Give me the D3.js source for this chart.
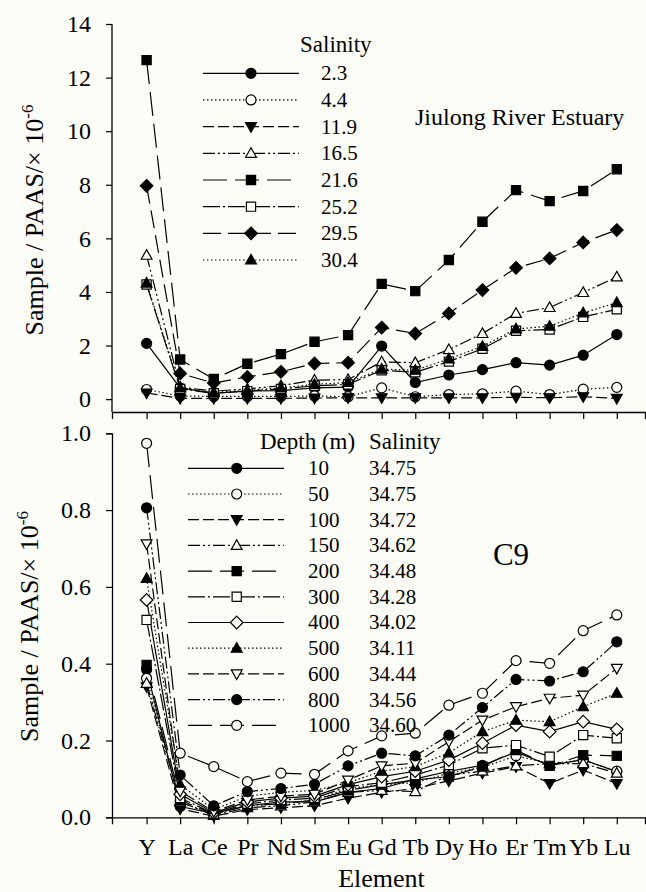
<!DOCTYPE html>
<html>
<head>
<meta charset="utf-8">
<script src="https://cdn.jsdelivr.net/npm/d3@7"></script>
<style>
  html, body { margin: 0; padding: 0; background: #fdfdf8; }
  svg { display: block; }
</style>
</head>
<body>
<svg id="chart" width="646" height="892"></svg>
<script>
// ---------------- DATA ----------------
const elements = ["Y","La","Ce","Pr","Nd","Sm","Eu","Gd","Tb","Dy","Ho","Er","Tm","Yb","Lu"];

// Top panel: Jiulong River Estuary (salinity series)
const topSalinity = ["2.3","4.4","11.9","16.5","21.6","25.2","29.5","30.4"];
const sal2_3  = [2.08, 0.42, 0.22, 0.30, 0.32, 0.42, 0.45, 1.98, 0.62, 0.90, 1.10, 1.36, 1.27, 1.64, 2.41];
const sal4_4  = [0.36, 0.12, 0.10, 0.10, 0.10, 0.12, 0.09, 0.42, 0.09, 0.17, 0.20, 0.30, 0.17, 0.37, 0.44];
const sal11_9 = [0.23, 0.03, 0.03, 0.03, 0.03, 0.04, 0.05, 0.05, 0.05, 0.05, 0.05, 0.07, 0.05, 0.09, 0.03];
const sal16_5 = [5.37, 0.45, 0.30, 0.38, 0.50, 0.71, 0.73, 1.39, 1.36, 1.85, 2.45, 3.20, 3.42, 3.98, 4.56];
const sal21_6 = [12.65, 1.48, 0.75, 1.32, 1.68, 2.14, 2.39, 4.30, 4.03, 5.19, 6.62, 7.80, 7.39, 7.77, 8.58];
const sal25_2 = [4.28, 0.38, 0.22, 0.30, 0.38, 0.50, 0.55, 1.08, 1.00, 1.40, 1.88, 2.55, 2.60, 3.07, 3.35];
const sal29_5 = [7.96, 0.96, 0.60, 0.83, 1.02, 1.33, 1.36, 2.67, 2.45, 3.20, 4.07, 4.90, 5.25, 5.85, 6.31];
const sal30_4 = [4.33, 0.42, 0.25, 0.33, 0.42, 0.55, 0.62, 1.12, 1.08, 1.50, 1.97, 2.62, 2.72, 3.22, 3.60];
const topSeries = [sal2_3, sal4_4, sal11_9, sal16_5, sal21_6, sal25_2, sal29_5, sal30_4];
const topTicks = [0, 2, 4, 6, 8, 10, 12, 14];

// Bottom panel: station C9 (depth series)
const depthLabels = ["10","50","100","150","200","300","400","500","600","800","1000"];
const depthSalinity = ["34.75","34.75","34.72","34.62","34.48","34.28","34.02","34.11","34.44","34.56","34.60"];
const d10   = [0.385, 0.028, 0.010, 0.030, 0.040, 0.040, 0.065, 0.075, 0.100, 0.120, 0.135, 0.170, 0.135, 0.150, 0.119];
const d50   = [0.362, 0.040, 0.008, 0.030, 0.035, 0.045, 0.075, 0.085, 0.090, 0.115, 0.130, 0.160, 0.140, 0.149, 0.120];
const d100  = [0.340, 0.022, 0.003, 0.020, 0.025, 0.030, 0.050, 0.065, 0.075, 0.095, 0.115, 0.132, 0.088, 0.123, 0.088];
const d150  = [0.349, 0.040, 0.005, 0.025, 0.030, 0.040, 0.065, 0.070, 0.067, 0.110, 0.120, 0.134, 0.140, 0.140, 0.115];
const d200  = [0.397, 0.045, 0.008, 0.030, 0.035, 0.045, 0.070, 0.085, 0.097, 0.106, 0.132, 0.175, 0.134, 0.162, 0.160];
const d300  = [0.514, 0.050, 0.010, 0.035, 0.045, 0.050, 0.080, 0.090, 0.110, 0.136, 0.180, 0.188, 0.158, 0.214, 0.206];
const d400  = [0.566, 0.060, 0.012, 0.040, 0.050, 0.055, 0.085, 0.106, 0.120, 0.149, 0.193, 0.240, 0.223, 0.249, 0.229];
const d500  = [0.622, 0.085, 0.020, 0.055, 0.065, 0.070, 0.090, 0.120, 0.132, 0.168, 0.223, 0.253, 0.249, 0.288, 0.323];
const d600  = [0.712, 0.068, 0.015, 0.045, 0.055, 0.060, 0.097, 0.134, 0.141, 0.197, 0.253, 0.288, 0.310, 0.318, 0.388];
const d800  = [0.806, 0.110, 0.030, 0.067, 0.075, 0.086, 0.134, 0.167, 0.160, 0.214, 0.286, 0.359, 0.355, 0.379, 0.457];
const d1000 = [0.974, 0.167, 0.132, 0.093, 0.115, 0.112, 0.173, 0.212, 0.219, 0.292, 0.323, 0.408, 0.401, 0.486, 0.527];
const bottomSeries = [d10, d50, d100, d150, d200, d300, d400, d500, d600, d800, d1000];
const bottomTicks = [0, 0.2, 0.4, 0.6, 0.8, 1.0];

// ---------------- STYLES ----------------
const FONT = "'Liberation Serif', 'Times New Roman', serif";
const DASH = {
  solid: null,
  dot: "1.5,2.5",
  dash: "11,4",
  dashDotDot: "12,3,2,3,2,3",
  longDash: "24,8",
  dashDot: "17,3,2,3",
  longDash2: "18,7"
};
const topStyle = [
  {shape:"circle",  fill:true,  dash:DASH.solid},
  {shape:"circle",  fill:false, dash:DASH.dot},
  {shape:"triDown", fill:true,  dash:DASH.dash},
  {shape:"triUp",   fill:false, dash:DASH.dashDotDot},
  {shape:"square",  fill:true,  dash:DASH.longDash},
  {shape:"square",  fill:false, dash:DASH.dashDot},
  {shape:"diamond", fill:true,  dash:DASH.longDash2},
  {shape:"triUp",   fill:true,  dash:DASH.dot}
];
const bottomStyle = [
  {shape:"circle",  fill:true,  dash:DASH.solid},
  {shape:"circle",  fill:false, dash:DASH.dot},
  {shape:"triDown", fill:true,  dash:DASH.dash},
  {shape:"triUp",   fill:false, dash:DASH.dashDotDot},
  {shape:"square",  fill:true,  dash:DASH.longDash},
  {shape:"square",  fill:false, dash:DASH.dashDot},
  {shape:"diamond", fill:false, dash:DASH.solid},
  {shape:"triUp",   fill:true,  dash:DASH.dot},
  {shape:"triDown", fill:false, dash:DASH.dash},
  {shape:"circle",  fill:true,  dash:DASH.dashDotDot},
  {shape:"circle",  fill:false, dash:DASH.longDash}
];
const BG = "#fdfdf8";

function shapePath(shape) {
  switch (shape) {
    case "circle": return "M5,0A5,5 0 1,1 -5,0A5,5 0 1,1 5,0Z";
    case "square": return "M-4.6,-4.6H4.6V4.6H-4.6Z";
    case "triUp": return "M0,-5.6L5.4,4L-5.4,4Z";
    case "triDown": return "M0,5.6L5.4,-4L-5.4,-4Z";
    case "diamond": return "M0,-6.3L6.3,0L0,6.3L-6.3,0Z";
  }
}

const svg = d3.select("#chart").attr("font-family", FONT);
svg.append("rect").attr("width", 646).attr("height", 892).attr("fill", BG);

const x = d3.scaleLinear().domain([-1.03, 14.84]).range([112, 645]);
const yTop = d3.scaleLinear().domain([-0.48, 14]).range([412, 24]);
const yBot = d3.scaleLinear().domain([0, 1]).range([817.3, 433.3]);

function addText(xx, yy, str, size, anchor) {
  return svg.append("text").attr("x", xx).attr("y", yy)
    .attr("font-family", FONT).attr("font-size", size)
    .attr("text-anchor", anchor || "start").attr("fill", "#000").text(str);
}

function styleAxis(g, fontSize) {
  g.attr("font-family", FONT).attr("font-size", fontSize);
  g.select(".domain").attr("stroke", "#000").attr("stroke-width", 1.3);
  g.selectAll(".tick line").attr("stroke", "#000").attr("stroke-width", 1.2);
  g.selectAll(".tick text").attr("font-size", fontSize).attr("font-family", FONT).attr("fill", "#000");
}

function drawPanel(yScale, ticks, tickFmt, xAxisY, showXLabels, series, styles) {
  const ga = svg.append("g").attr("transform", `translate(112,0)`)
    .call(d3.axisLeft(yScale).tickValues(ticks).tickFormat(tickFmt).tickSizeOuter(0).tickSize(6).tickPadding(15));
  if (yScale === yTop) ga.select(".domain").attr("d", `M0,${xAxisY}V${yScale(14)}`);
  styleAxis(ga, 24);
  const gx = svg.append("g").attr("transform", `translate(0,${xAxisY})`)
    .call(d3.axisBottom(x).tickValues(d3.range(elements.length))
      .tickFormat(showXLabels ? (i => elements[i]) : () => "")
      .tickSizeOuter(0).tickSize(7).tickPadding(14));
  styleAxis(gx, 24);

  const line = d3.line().x((d, i) => x(i)).y(d => yScale(d));
  series.forEach((vals, k) => {
    const st = styles[k];
    svg.append("path").datum(vals).attr("d", line)
      .attr("fill", "none").attr("stroke", "#000").attr("stroke-width", 1.2)
      .attr("stroke-dasharray", st.dash);
  });
  series.forEach((vals, k) => {
    const st = styles[k];
    svg.append("g").selectAll("path").data(vals).join("path")
      .attr("transform", (d, i) => `translate(${x(i)},${yScale(d)})`)
      .attr("d", shapePath(st.shape))
      .attr("fill", st.fill ? "#000" : BG)
      .attr("stroke", "#000").attr("stroke-width", 1.2);
  });
}

drawPanel(yTop, topTicks, d3.format("d"), 412, false, topSeries, topStyle);
drawPanel(yBot, bottomTicks, d3.format(".1f"), 817.3, true, bottomSeries, bottomStyle);

// ---------------- LEGENDS ----------------
function legendRow(y0, x1, x2, xm, st) {
  svg.append("line").attr("x1", x1).attr("x2", x2).attr("y1", y0).attr("y2", y0)
    .attr("stroke", "#000").attr("stroke-width", 1.2).attr("stroke-dasharray", st.dash);
  svg.append("path").attr("d", shapePath(st.shape)).attr("transform", `translate(${xm},${y0})`)
    .attr("fill", st.fill ? "#000" : BG).attr("stroke", "#000").attr("stroke-width", 1.2);
}

const topRowY = d3.scaleLinear().domain([0, 7]).range([73.3, 260]);
addText(300, 52, "Salinity", 23);
topSalinity.forEach((lab, k) => {
  const yy = topRowY(k);
  legendRow(yy, 203, 299, 251, topStyle[k]);
  addText(321, yy, lab, 21).attr("dy", "0.33em");
});
addText(415, 125, "Jiulong River Estuary", 24);

const botRowY = d3.scaleLinear().domain([0, 10]).range([468.3, 725.3]);
addText(260, 449, "Depth (m)", 23);
addText(369, 449, "Salinity", 23);
depthLabels.forEach((lab, k) => {
  const yy = botRowY(k);
  legendRow(yy, 188, 284, 236.7, bottomStyle[k]);
  addText(308, yy, lab, 21).attr("dy", "0.33em");
  addText(369, yy, depthSalinity[k], 21).attr("dy", "0.33em");
});
addText(511, 565, "C9", 31, "middle");

// ---------------- AXIS TITLES ----------------
function yTitle(cx, cy) {
  const t = svg.append("text").attr("transform", `translate(${cx},${cy}) rotate(-90)`)
    .attr("text-anchor", "middle").attr("font-size", 26).attr("font-family", FONT).attr("fill", "#000");
  t.append("tspan").text("Sample / PAAS/×  10");
  t.append("tspan").attr("dy", -10).attr("font-size", 17).text("-6");
}
yTitle(43, 220);
yTitle(38, 626.5);

addText(381.5, 887, "Element", 26, "middle");
</script>
</body>
</html>
